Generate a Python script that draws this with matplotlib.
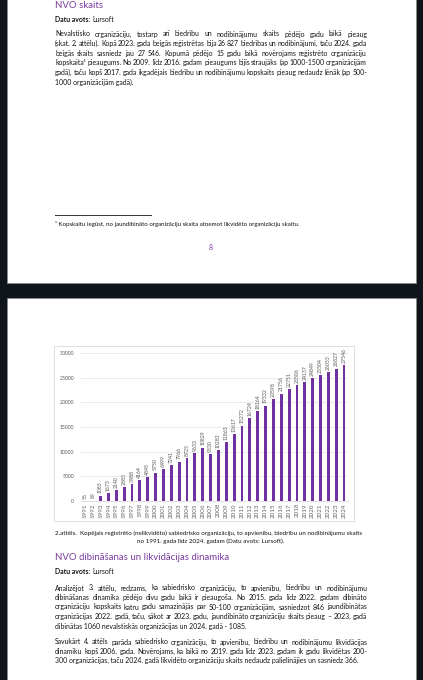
import matplotlib
matplotlib.use('Agg')
import matplotlib.pyplot as plt
from matplotlib.patches import Rectangle
from matplotlib.lines import Line2D

# ---------------- data ----------------
years = [str(y) for y in range(1991, 2025)]
counts = [56, 89, 1083, 1673, 2140, 2883, 3488, 4164, 4845, 5750, 6499, 7241,
          7966, 8725, 9633, 10829, 9530, 10283, 11863, 13617, 15272, 16724,
          18164, 19332, 20598, 21756, 22751, 23506, 24137, 24849, 25504,
          26053, 26827, 27546]
yticks = [0, 5000, 10000, 15000, 20000, 25000, 30000]

heading1 = "NVO skaits"
heading2 = "NVO dibināšanas un likvidācijas dinamika"
source_bold = "Datu avots:"
source_name = "Lursoft"
para1 = [
    "Nevalstisko organizāciju, tostarp arī biedrību un nodibinājumu skaits pēdējo gadu laikā pieaug",
    "(skat. 2. attēlu). Kopā 2023. gada beigās reģistrētas bija 26 827 biedrības un nodibinājumi, taču 2024. gada",
    "beigās skaits sasniedz jau 27 546. Kopumā pēdējo 15 gadu laikā novērojams reģistrēto organizāciju",
    "kopskaita¹ pieaugums. No 2009. līdz 2016. gadam pieaugums bijis straujāks (ap 1000-1500 organizācijām",
    "gadā), taču kopš 2017. gada ikgadējais biedrību un nodibinājumu kopskaits pieaug nedaudz lēnāk  (ap 500-",
    "1000 organizācijām gadā).",
]
footnote = "¹ Kopskaitu iegūst, no jaundibināto organizāciju skaita atņemot likvidēto organizāciju skaitu."
page_no = "8"
caption = [
    "2.attēls.  Kopējais reģistrēto (nelikvidēto) sabiedrisko organizāciju, to apvienību, biedrību un nodibinājumu skaits",
    "no 1991. gada līdz 2024. gadam (Datu avots: Lursoft).",
]
para2 = [
    "Analizējot 3. attēlu, redzams, ka sabiedrisko organizāciju, to apvienību, biedrību un nodibinājumu",
    "dibināšanas dinamika pēdējo divu gadu laikā ir pieaugoša. No 2015. gada līdz 2022. gadam dibināto",
    "organizāciju kopskaits katru gadu samazinājās par 50-100 organizācijām, sasniedzot 846 jaundibinātas",
    "organizācijas 2022. gadā, taču, sākot ar 2023. gadu, jaundibināto organizāciju skaits pieaug – 2023. gadā",
    "dibinātas 1060 nevalstiskās organizācijas un 2024. gadā - 1085.",
]
para3 = [
    "Savukārt 4. attēls parāda sabiedrisko organizāciju, to apvienību, biedrību un nodibinājumu likvidācijas",
    "dinamiku kopš 2006. gada. Novērojams, ka laikā no 2019. gada līdz 2023. gadam ik gadu likvidētas 200-",
    "300 organizācijas, taču 2024. gadā likvidēto organizāciju skaits nedaudz palielinājies un sasniedz 366.",
]

# ---------------- figure ----------------
W, H = 423, 680
FAM = ['Lato', 'DejaVu Sans']
TXT = '#141414'
PURPLE = '#7a3b9e'
BAR = '#7030a0'
GRAY = '#595959'

fig = plt.figure(figsize=(W / 100, H / 100), dpi=100)
fig.patch.set_facecolor('#10151b')
renderer = fig.canvas.get_renderer()


def fx(x):
    return x / W


def fy(y):
    return 1 - y / H


def page(x0, y0, x1, y1):
    fig.add_artist(Rectangle((fx(x0), fy(y1)), (x1 - x0) / W, (y1 - y0) / H,
                             transform=fig.transFigure, facecolor='white',
                             edgecolor='#8a8a8a', lw=0.5, zorder=-5))


page(7, -5, 416, 283)
page(7, 298, 416, 690)

# chart frame
fig.add_artist(Rectangle((fx(54), fy(521)), 300 / W, 175 / H,
                         transform=fig.transFigure, facecolor='white',
                         edgecolor='#d9d9d9', lw=0.6, zorder=-4))


def width_of(t):
    return t.get_window_extent(renderer).width


def fit_size(s, target, weight='normal'):
    t = fig.text(0, 0, s, fontsize=10, family=FAM, weight=weight)
    w = width_of(t)
    t.remove()
    return 10 * target / w


def put(s, x, y, size, color=TXT, weight='normal', ha='left'):
    return fig.text(fx(x), fy(y), s, fontsize=size, family=FAM, weight=weight,
                    color=color, ha=ha, va='center')


def justified(line, y, size, x0=55, x1=367, justify=True):
    if not justify:
        put(line, x0, y, size)
        return
    words = [w for w in line.split(' ') if w]
    texts = [put(w, x0, y, size) for w in words]
    widths = [width_of(t) for t in texts]
    gap = (x1 - x0 - sum(widths)) / (len(words) - 1)
    x = x0
    for t, w in zip(texts, widths):
        t.set_x(fx(x))
        x += w + gap


def paragraph(lines, y0, step, size):
    for i, line in enumerate(lines):
        justified(line, y0 + i * step, size, justify=(i < len(lines) - 1))


def source_line(y, size):
    t = put(source_bold, 55, y, size, weight='bold')
    put(source_name, 55 + width_of(t) + 0.26 * size * 100 / 72, y, size)


body = 0.5 * (fit_size(para3[-1], 300) + fit_size(para1[-1], 78))
head = fit_size(heading2, 175)
small = fit_size(caption[0], 306)
foot = fit_size(footnote, 248)

# ---- page 1 ----
put(heading1, 55, 5, head, color=PURPLE)
source_line(19, body)
paragraph(para1, 34, 9.6, body)
fig.add_artist(Line2D([fx(55), fx(151)], [fy(215), fy(215)],
                      transform=fig.transFigure, color='#333333', lw=0.7))
put(footnote, 55, 224, foot)
put(page_no, 211, 247, body, color=PURPLE, ha='center')

# ---- chart ----
ax = fig.add_axes([fx(81), fy(501), 267 / W, 148 / H])
ax.patch.set_alpha(0)
xs = list(range(len(years)))
ax.bar(xs, counts, width=0.36, color=BAR, zorder=3)
ax.set_xlim(-0.5, len(years) - 0.5)
ax.set_ylim(yticks[0], yticks[-1])
ax.set_yticks(yticks)
ax.set_yticklabels([str(v) for v in yticks], fontsize=3.7, color=GRAY, family=FAM)
ax.set_xticks(xs)
ax.set_xticklabels(years, rotation=90, fontsize=4.5, color='#666666', family=FAM)
ax.tick_params(axis='y', length=0, pad=5)
ax.tick_params(axis='x', length=0, pad=1.5)
ax.yaxis.grid(True, color='#e3e3e3', lw=0.5)
ax.set_axisbelow(True)
for s in ['left', 'right', 'top']:
    ax.spines[s].set_visible(False)
ax.spines['bottom'].set_color('#d9d9d9')
ax.spines['bottom'].set_linewidth(0.6)
for x, v in zip(xs, counts):
    ax.annotate(str(v), (x, v), xytext=(0, 1.6), textcoords='offset points',
                rotation=90, ha='center', va='bottom', fontsize=3.7,
                color=GRAY, family=FAM)

# ---- page 2 text ----
put(caption[0], 209, 533, small, ha='center')
put(caption[1], 211, 541, small, ha='center')
put(heading2, 55, 558, head, color=PURPLE)
source_line(572, body)
paragraph(para2, 588, 9.5, body)
paragraph(para3, 642, 9.3, body)

fig.savefig('out.png', dpi=100, facecolor=fig.get_facecolor())
